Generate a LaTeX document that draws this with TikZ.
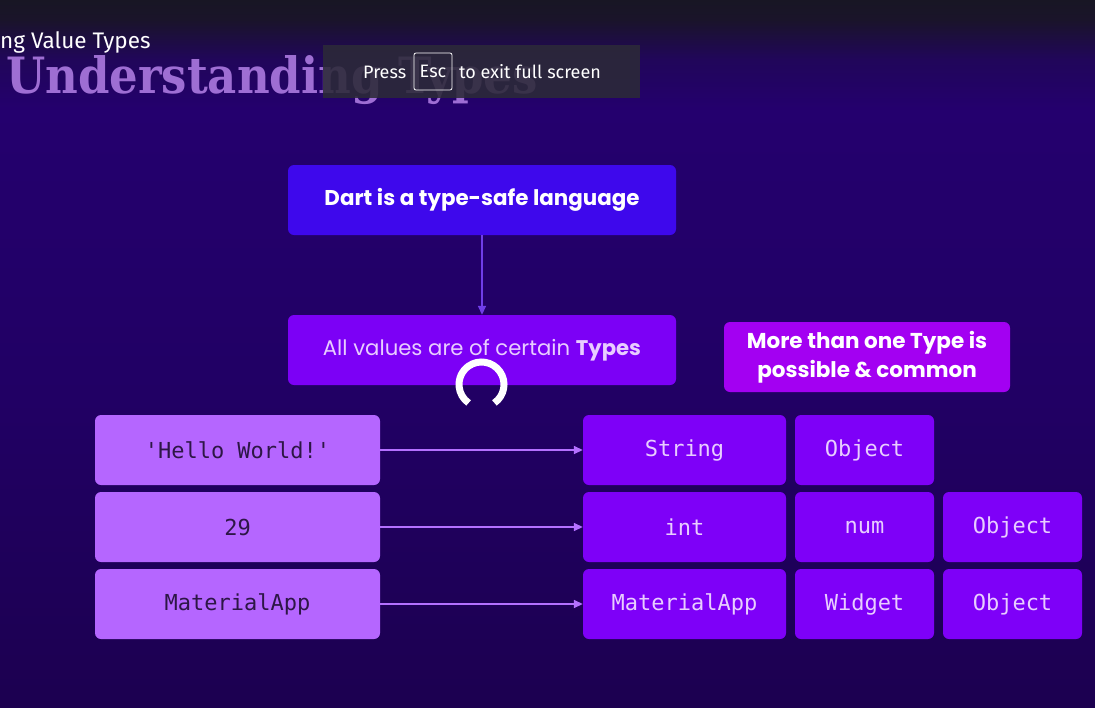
\documentclass[tikz,border=0pt]{standalone}
\usepackage{fontspec}
\setmainfont{Poppins}
\newfontfamily\monofnt{DejaVu Sans Mono}
\newfontfamily\uifnt{Fira Sans}
\newfontfamily\slabfnt{DejaVu Serif Condensed}
\usetikzlibrary{arrows.meta}
\definecolor{dartc}{RGB}{62,8,236}
\definecolor{allc}{RGB}{124,0,246}
\definecolor{morec}{RGB}{163,0,242}
\definecolor{leftc}{RGB}{181,102,255}
\definecolor{rightc}{RGB}{126,0,248}
\definecolor{lighttxt}{RGB}{232,205,255}
\definecolor{darktxt}{RGB}{45,22,70}
\definecolor{arrowa}{RGB}{112,62,232}
\definecolor{arrowb}{RGB}{180,112,255}
\definecolor{titlec}{RGB}{172,122,224}
\definecolor{ovl}{RGB}{44,42,56}
\pgfdeclareverticalshading{bgshade}{100bp}{
  rgb(0bp)=(0.11,0,0.314);
  rgb(25bp)=(0.11,0,0.314);
  rgb(46.7bp)=(0.129,0,0.392);
  rgb(67.2bp)=(0.141,0,0.431);
  rgb(70.8bp)=(0.129,0.024,0.353);
  rgb(73.6bp)=(0.102,0.078,0.165);
  rgb(75bp)=(0.094,0.086,0.141);
  rgb(100bp)=(0.094,0.086,0.141)}
\tikzset{
  box/.style={rounded corners=6pt, inner sep=0pt, align=center},
  dartbox/.style={box, fill=dartc, text=white, font=\fontsize{21.4}{24}\selectfont\bfseries, minimum width=388pt, minimum height=70pt},
  allbox/.style={box, fill=allc, text=lighttxt, font=\fontsize{21.2}{24}\selectfont, minimum width=388pt, minimum height=70pt},
  morebox/.style={box, fill=morec, text=white, font=\fontsize{21.5}{29}\selectfont\bfseries, minimum width=286pt, minimum height=70pt},
  valbox/.style={box, fill=leftc, text=darktxt, font=\fontsize{22}{24}\monofnt, minimum width=285pt, minimum height=70pt},
  typebox/.style={box, fill=rightc, text=lighttxt, font=\fontsize{22}{24}\monofnt, minimum height=70pt},
  wide/.style={typebox, minimum width=203pt},
  narrow/.style={typebox, minimum width=139pt},
  conn/.style={arrowb, line width=1.6pt, -{Triangle[length=9pt,width=8pt]}},
  uitext/.style={anchor=base west, inner sep=0pt, text=white, font=\fontsize{18}{20}\uifnt},
}
\begin{document}
\begin{tikzpicture}[x=1pt,y=-1pt]
\useasboundingbox (0,0) rectangle (1095,707);
\shade[shading=bgshade] (0,0) rectangle (1095,707);

% faded title
\node[anchor=base west, inner sep=0pt, text=titlec, opacity=0.9, font=\fontsize{50}{52}\slabfnt\bfseries] (title) at (6,93) {Understanding Types};

% diagram
\node[dartbox] (dart) at (482,200) {Dart is a type-safe language};
\node[allbox] (all) at (482,350) {All values are of certain \textbf{Types}};
\node[morebox] (more) at (867,357) {More than one Type is\\possible \& common};
\draw[arrowa, line width=1.6pt, -{Triangle[length=9pt,width=8pt]}] (dart.south) -- (all.north);

\node[valbox] (v1) at (237.5,450) {'Hello World!'};
\node[valbox] (v2) at (237.5,527) {29};
\node[valbox] (v3) at (237.5,604) {MaterialApp};

\node[wide] (t11) at (684.5,450) {String};
\node[narrow] (t12) at (864.5,450) {Object};
\node[wide] (t21) at (684.5,527) {int};
\node[narrow] (t22) at (864.5,527) {num};
\node[narrow] (t23) at (1012.5,527) {Object};
\node[wide] (t31) at (684.5,604) {MaterialApp};
\node[narrow] (t32) at (864.5,604) {Widget};
\node[narrow] (t33) at (1012.5,604) {Object};

\draw[conn] (v1.east) -- (t11.west);
\draw[conn] (v2.east) -- (t21.west);
\draw[conn] (v3.east) -- (t31.west);

% loading spinner
\coordinate (spin) at (481.5,384.5);
\draw[white, line width=7pt] ([shift={(-55:22.5pt)}]spin) arc[start angle=-55, end angle=235, radius=22.5pt];

% overlays
\node[anchor=base west, inner sep=0pt, text=white, font=\fontsize{22.5}{24}\uifnt] (crumb) at (0,48) {ng Value Types};
\node[fill=ovl, fill opacity=0.88, minimum width=317pt, minimum height=53pt, inner sep=0pt] (ov) at (481.5,71.5) {};
\node[uitext] (press) at (363,78) {Press};
\node[draw=white, line width=0.8pt, rounded corners=2pt, minimum width=38pt, minimum height=37pt, inner sep=0pt, text=white, font=\fontsize{18}{20}\uifnt] (esc) at (433,71.5) {Esc};
\node[uitext] (exitt) at (459,78) {to exit full screen};
\end{tikzpicture}
\end{document}
